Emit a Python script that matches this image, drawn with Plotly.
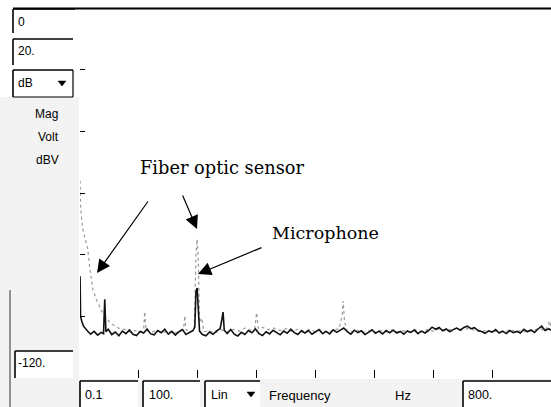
import plotly.graph_objects as go

# ---------------- data ----------------
mic_freq = [0.1, 1, 3, 6, 12, 18, 24, 30, 36, 40, 42, 44, 48, 54, 60, 66, 72, 78, 84, 90,
            96, 102, 108, 114, 120, 126, 132, 138, 144, 150, 156, 162, 168, 174, 180, 186, 192,
            195, 197, 199, 201, 203, 208, 214, 220, 226, 232, 238, 241, 243, 245, 250, 256, 262,
            268, 274, 280, 286, 292, 298, 304, 310, 316, 322, 328, 334, 340, 346, 352, 358, 364,
            370, 376, 382, 388, 394, 400, 406, 412, 418, 424, 430, 436, 442, 448, 454, 460, 466,
            472, 478, 484, 490, 496, 502, 508, 514, 520, 526, 532, 538, 544, 550, 556, 562, 568,
            574, 580, 586, 592, 598, 604, 610, 616, 622, 628, 634, 640, 646, 652, 658, 664, 670,
            676, 682, 688, 694, 700, 706, 712, 718, 724, 730, 736, 742, 748, 754, 760, 766, 772,
            778, 784, 790, 796, 800]
mic_db = [-87, -100, -101.6, -103.2, -104.6, -105.8, -104.9, -106.1, -105.2, -105.6, -94.5, -105, -104.2, -105.9, -105.1, -106.3, -104.8, -105.6, -104.4, -105.8,
          -106.2, -104.9, -105.4, -104.1, -105.7, -106.0, -104.6, -105.3, -104.2, -105.8, -104.9, -106.1, -105.0, -104.3, -105.9, -105.2, -104.6,
          -103.5, -92, -90.8, -97, -104.8, -105.9, -106.3, -105.1, -105.8, -104.7, -104.0, -101, -98.6, -104.5, -105.6, -104.3, -105.8,
          -106.4, -105.2, -105.9, -104.6, -105.3, -104.1, -105.6, -106.2, -105.0, -105.7, -104.5, -105.4, -106.0, -104.8, -105.5, -104.2, -105.3,
          -105.9, -104.7, -105.4, -104.6, -105.8, -105.1, -104.3, -105.6, -104.9, -105.7, -104.4, -105.2, -104.6, -103.8, -105.0, -105.8, -104.5,
          -105.3, -104.7, -105.9, -105.2, -104.4, -105.5, -104.8, -105.7, -104.6, -105.3, -104.5, -105.4, -104.9, -105.8, -104.7, -105.2, -104.4,
          -105.6, -104.8, -105.4, -104.6, -103.5, -104.2, -103.6, -104.7, -104.1, -105.0, -104.3, -103.8, -104.5, -103.6, -103.2, -104.0, -103.7,
          -104.6, -104.9, -105.5, -104.7, -105.1, -104.3, -105.4, -104.8, -105.6, -104.6, -105.3, -104.9, -105.4, -104.2, -105.0, -104.4, -105.2,
          -104.1, -103.2, -104.6, -104.0, -104.5]

fiber_freq = [0.1, 1, 3, 5, 9, 13, 17, 22, 29, 36, 45, 55, 65, 78, 86, 94, 102, 108, 110, 112,
              120, 130, 140, 150, 160, 170, 176, 178, 180, 188, 194, 197, 199, 201, 203, 207, 210,
              220, 230, 240, 250, 260, 270, 280, 290, 297, 300, 303, 310, 320, 330, 340, 350, 360,
              370, 380, 390, 400, 410, 420, 430, 440, 445, 447, 449, 452, 460, 470, 480, 490, 500,
              510, 520, 530, 540, 550, 560, 570, 580, 590, 600, 610, 620, 630, 640, 650, 660, 670,
              680, 690, 700, 710, 720, 730, 740, 750, 760, 770, 780, 790, 798, 800]
fiber_db = [-56, -64, -69, -72, -75, -78, -85, -91.5, -95, -98, -100.8, -102.6, -103.8, -104.4, -105.2, -104.6, -105.1, -104.3, -98.5, -104.5,
            -105.2, -104.6, -105.3, -104.8, -105.5, -104.9, -104.0, -99.8, -104.3, -105.1, -104.6, -80, -75, -82, -102, -100.5, -105.0,
            -104.7, -105.3, -104.4, -105.1, -104.2, -104.8, -103.8, -104.5, -103.8, -98.8, -104.0, -103.6, -104.3, -103.8, -104.6, -104.0, -104.9,
            -104.2, -104.8, -104.3, -105.0, -104.4, -105.1, -104.6, -104.0, -100, -95, -101, -104.3, -105.0, -104.5, -105.2, -104.7, -105.3,
            -104.6, -105.1, -104.4, -105.0, -104.7, -105.3, -104.5, -104.9, -104.3, -104.8, -104.1, -104.7, -104.2, -103.8, -104.4, -103.9, -104.5,
            -105.0, -104.6, -105.2, -104.7, -105.1, -104.4, -104.9, -104.6, -105.2, -104.5, -103.9, -104.7, -101.5, -104.6]

x_tick_vals = [100, 200, 300, 400, 500, 600, 700]
y_tick_vals = [-20, -40, -60, -80, -100]

# ---------------- geometry helpers (pixel -> paper) ----------------
W, H = 551, 407
L, R, T, B = 80, 551, 8, 378


def px(x):
    return (x - L) / (R - L)


def py(y):
    return (B - y) / (B - T)


fig = go.Figure()
fig.add_trace(go.Scatter(x=fiber_freq, y=fiber_db, mode="lines",
                         line=dict(color="#9a9a9a", width=1.2, dash="dot"),
                         hoverinfo="skip", showlegend=False))
fig.add_trace(go.Scatter(x=mic_freq, y=mic_db, mode="lines",
                         line=dict(color="#111111", width=1.6),
                         hoverinfo="skip", showlegend=False))

shapes = []
STIP = "#f3f3f3"
# stippled panels
shapes.append(dict(type="rect", xref="paper", yref="paper", x0=px(0), x1=px(79), y0=py(407), y1=py(97),
                   fillcolor=STIP, line=dict(width=0), layer="below"))
shapes.append(dict(type="rect", xref="paper", yref="paper", x0=px(0), x1=px(551), y0=py(407), y1=py(379),
                   fillcolor=STIP, line=dict(width=0), layer="below"))


def box(x0, y0, x1, y1, full=False):
    shapes.append(dict(type="rect", xref="paper", yref="paper", x0=px(x0), x1=px(x1), y0=py(y1), y1=py(y0),
                       fillcolor="white", line=dict(width=0), layer="below"))
    shapes.append(dict(type="line", xref="paper", yref="paper", x0=px(x0), x1=px(x1), y0=py(y0), y1=py(y0),
                       line=dict(color="black", width=1.6)))
    shapes.append(dict(type="line", xref="paper", yref="paper", x0=px(x0), x1=px(x0), y0=py(y0), y1=py(y1),
                       line=dict(color="black", width=1.6)))
    if full:
        shapes.append(dict(type="line", xref="paper", yref="paper", x0=px(x1), x1=px(x1), y0=py(y0), y1=py(y1),
                           line=dict(color="black", width=1.2)))
        shapes.append(dict(type="line", xref="paper", yref="paper", x0=px(x0), x1=px(x1), y0=py(y1), y1=py(y1),
                           line=dict(color="black", width=1.2)))


box(13, 9, 75, 33)
box(13, 39, 73, 65)
box(13, 70, 73, 97, full=True)
box(15, 351, 73, 378)
box(80, 381, 138, 407)
box(143, 381, 200, 407)
box(205, 381, 260, 407)
box(463, 381, 551, 407)

# top border line
shapes.append(dict(type="line", xref="paper", yref="paper", x0=px(13), x1=px(551), y0=py(8.5), y1=py(8.5),
                   line=dict(color="black", width=2)))
# long vertical line at left
shapes.append(dict(type="line", xref="paper", yref="paper", x0=px(10), x1=px(10), y0=py(290), y1=py(407),
                   line=dict(color="#333333", width=1)))


def tri(cx, cy):
    return dict(type="path", xref="paper", yref="paper",
                path=f"M {px(cx-4)},{py(cy-2)} L {px(cx+4)},{py(cy-2)} L {px(cx)},{py(cy+3)} Z",
                fillcolor="black", line=dict(color="black", width=0.5))


shapes.append(tri(62, 83))
shapes.append(tri(251, 394))

anns = []
UI = "Liberation Sans, Arial, sans-serif"


def label(text, x, y, size=12, anchor="left"):
    anns.append(dict(text=text, x=px(x), y=py(y), xref="paper", yref="paper", showarrow=False,
                     xanchor=anchor, yanchor="middle", font=dict(family=UI, size=size, color="black")))


label("0", 16, 22)
label("20.", 16, 51)
label("dB", 16, 83)
label("Mag", 46, 114, anchor="center")
label("Volt", 48, 137, anchor="center")
label("dBV", 47, 160, anchor="center")
label("-120.", 16, 363)
label("0.1", 83, 395, size=12.5)
label("100.", 147, 395, size=12.5)
label("Lin", 209, 395, size=12.5)
label("Frequency", 267, 395, size=13)
label("Hz", 393, 395, size=13)
label("800.", 466, 395, size=12.5)

SERIF = "DejaVu Serif, Liberation Serif, serif"
anns.append(dict(text="Fiber optic sensor", x=px(222), y=py(167), xref="paper", yref="paper",
                 showarrow=False, xanchor="center", yanchor="middle",
                 font=dict(family=SERIF, size=17.8, color="black")))
anns.append(dict(text="Microphone", x=px(325), y=py(233), xref="paper", yref="paper",
                 showarrow=False, xanchor="center", yanchor="middle",
                 font=dict(family=SERIF, size=17.5, color="black")))


def arrow(tipx, tipy, tailx, taily):
    anns.append(dict(text="", x=px(tipx), y=py(tipy), xref="paper", yref="paper",
                     ax=tailx - tipx, ay=taily - tipy, showarrow=True,
                     arrowhead=2, arrowsize=2.2, arrowwidth=1.2, arrowcolor="black"))


arrow(97, 273, 149, 200)
arrow(197, 229, 182, 194)
arrow(198, 274, 263, 247)

fig.update_layout(
    width=W, height=H, autosize=False,
    margin=dict(l=L, r=W - R, t=T, b=H - B, pad=0),
    paper_bgcolor="white", plot_bgcolor="white",
    shapes=shapes, annotations=anns, showlegend=False,
    xaxis=dict(range=[0, 800], showgrid=False, zeroline=False, showline=False,
               tickvals=x_tick_vals, showticklabels=False, ticks="inside", ticklen=8,
               tickcolor="black", tickwidth=1),
    yaxis=dict(range=[-120, 0], showgrid=False, zeroline=False, showline=False,
               tickvals=y_tick_vals, showticklabels=False, ticks="inside", ticklen=5,
               tickcolor="black", tickwidth=1),
)

fig.write_html("out.html", config={"displayModeBar": False},
               post_script="document.body.style.margin='0';document.body.style.padding='0';"
                           "document.documentElement.style.overflow='hidden';")
